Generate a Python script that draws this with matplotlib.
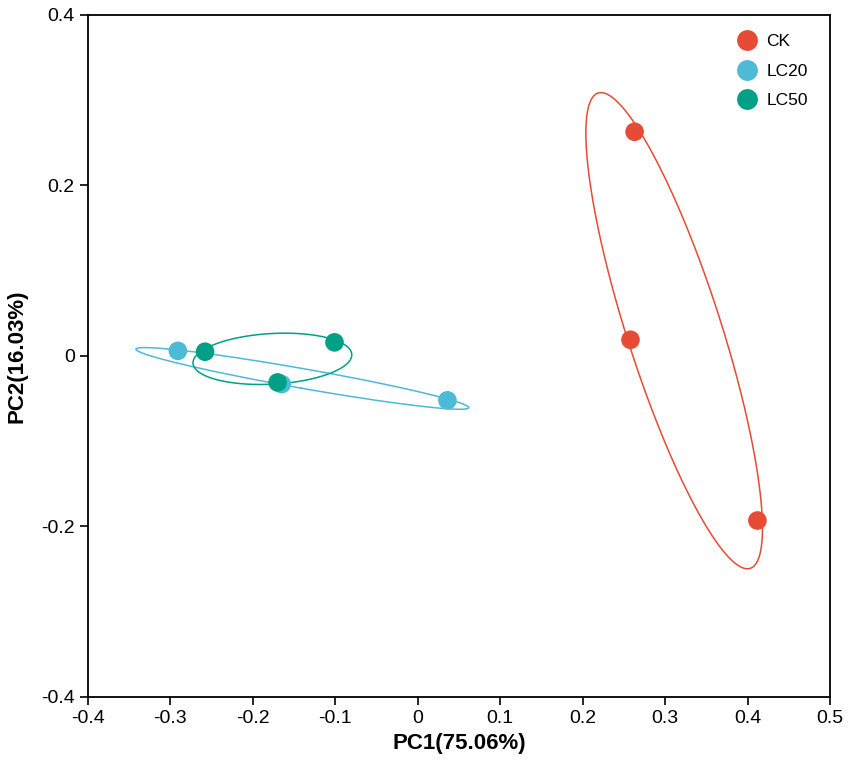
import numpy as np
import matplotlib.pyplot as plt
from matplotlib.lines import Line2D
from matplotlib.ticker import FuncFormatter

# Veriler (resimden okunan PC1 / PC2 koordinatları)
groups = ['CK', 'LC20', 'LC50']
colors = ['#E64B35', '#4DBBD5', '#00A087']
ck_pc1 = [0.263, 0.258, 0.412]
ck_pc2 = [0.263, 0.019, -0.193]
lc20_pc1 = [-0.291, -0.165, 0.036]
lc20_pc2 = [0.006, -0.033, -0.052]
lc50_pc1 = [-0.258, -0.101, -0.170]
lc50_pc2 = [0.005, 0.016, -0.031]

pc1 = [ck_pc1, lc20_pc1, lc50_pc1]
pc2 = [ck_pc2, lc20_pc2, lc50_pc2]

x_ticks = [-0.4, -0.3, -0.2, -0.1, 0, 0.1, 0.2, 0.3, 0.4, 0.5]
y_ticks = [-0.4, -0.2, 0, 0.2, 0.4]

plt.rcParams['font.family'] = ['Liberation Sans', 'DejaVu Sans']


def ellipse_line(x, y, scale, n=300):
    # kovaryans elipsi
    pts = np.column_stack([x, y])
    mean = pts.mean(axis=0)
    cov = np.cov(pts, rowvar=False)
    vals, vecs = np.linalg.eigh(cov)
    t = np.linspace(0, 2 * np.pi, n)
    circle = np.column_stack([np.cos(t), np.sin(t)])
    ell = circle * (scale * np.sqrt(vals)) @ vecs.T + mean
    return ell[:, 0], ell[:, 1]


fig = plt.figure(figsize=(8.51, 7.6), dpi=100)
ax = fig.add_axes([0.1034, 0.0829, 0.8719, 0.8974])

for xs, ys, c in zip(pc1, pc2, colors):
    n = len(xs)
    k = np.sqrt(2 * (n - 1) / n) * 1.06
    ex, ey = ellipse_line(xs, ys, k)
    ax.plot(ex, ey, color=c, linewidth=1.1, zorder=2)

for xs, ys, c in zip(pc1, pc2, colors):
    ax.scatter(xs, ys, s=180, color=c, edgecolors='none', zorder=3)

ax.set_xlim(-0.4, 0.5)
ax.set_ylim(-0.4, 0.4)
ax.set_xticks(x_ticks)
ax.set_yticks(y_ticks)
fmt = FuncFormatter(lambda v, p: '0' if abs(v) < 1e-9 else '%g' % v)
ax.xaxis.set_major_formatter(fmt)
ax.yaxis.set_major_formatter(fmt)
ax.tick_params(direction='out', length=6, width=1.2, labelsize=14, colors='black')
for sp in ax.spines.values():
    sp.set_linewidth(1.3)

ax.set_xlabel('PC1(75.06%)', fontsize=16, fontweight='bold', labelpad=4)
ax.set_ylabel('PC2(16.03%)', fontsize=16, fontweight='bold', labelpad=10)

handles = [Line2D([], [], marker='o', linestyle='none', markersize=15,
                  markerfacecolor=c, markeredgecolor='none', label=g)
           for g, c in zip(groups, colors)]
ax.legend(handles=handles, loc='upper right', frameon=False,
          handletextpad=0.1, labelspacing=0.82, borderaxespad=0.7,
          bbox_to_anchor=(0.996, 1.0), prop={'size': 12.5})

fig.savefig('out.png', dpi=100)
